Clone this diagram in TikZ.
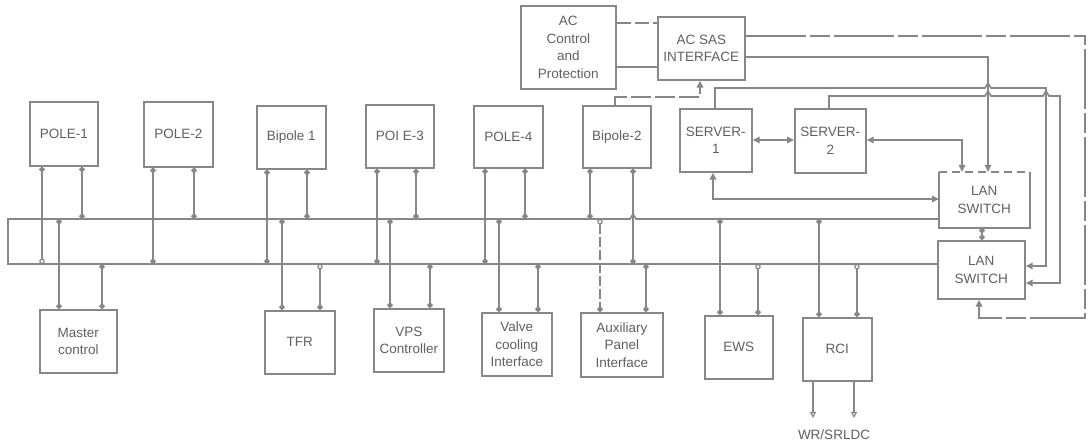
\documentclass[tikz,border=0pt]{standalone}
\usepackage{fontspec}
\setmainfont{Liberation Sans}
\usetikzlibrary{arrows.meta}
\definecolor{lc}{RGB}{135,135,135}
\definecolor{tc}{RGB}{95,95,95}
\begin{document}
\begin{tikzpicture}[x=1pt,y=-1pt,
  box/.style={draw=lc,line width=1.7pt,text=tc,align=center,anchor=north west,inner sep=0pt,
    font=\fontsize{13.5}{17.5}\selectfont},
  ln/.style={draw=lc,line width=1.6pt},
  tri/.tip={Triangle[length=7pt,width=6.5pt]},
  jd/.tip={Circle[length=5.5pt]},
  jo/.tip={Circle[open,length=5.5pt,line width=1.2pt]},
  dd/.style={ln,jd-jd},
  dashln/.style={dash pattern=on 14pt off 4pt}
]
\useasboundingbox (0,0) rectangle (1088,446);

% upper boxes
\node[box,minimum width=68pt,minimum height=64pt] (p1) at (29,101) {POLE-1};
\node[box,minimum width=69pt,minimum height=65pt] (p2) at (143,101) {POLE-2};
\node[box,minimum width=69pt,minimum height=63pt] (b1) at (256,105) {Bipole 1};
\node[box,minimum width=68pt,minimum height=63pt] (p3) at (365,104) {POI E-3};
\node[box,minimum width=69pt,minimum height=62pt] (p4) at (473,105) {POLE-4};
\node[box,minimum width=68pt,minimum height=62pt] (b2) at (582,105) {Bipole-2};
\node[box,minimum width=95pt,minimum height=83pt] (acp) at (520,5) {AC\\Control\\and\\Protection};
\node[box,minimum width=87pt,minimum height=63pt] (sas) at (657,16) {AC SAS\\INTERFACE};
\node[box,minimum width=72pt,minimum height=63pt] (s1) at (679,108) {SERVER-\\1};
\node[box,minimum width=71pt,minimum height=64pt] (s2) at (794,108) {SERVER-\\2};
\node[box,draw=none,minimum width=89pt,minimum height=54pt] (lan1) at (939,172) {LAN\\SWITCH};
\draw[ln,line width=1.7pt] (lan1.north west) -- (lan1.south west) -- (lan1.south east) -- (lan1.north east);
\draw[ln,line width=1.7pt,dash pattern=on 8pt off 5pt] (lan1.north west) -- (lan1.north east);
\node[box,minimum width=87pt,minimum height=58pt] (lan2) at (937,240) {LAN\\SWITCH};

% lower boxes
\node[box,minimum width=77pt,minimum height=63pt] (mc) at (39,309) {Master\\control};
\node[box,minimum width=70pt,minimum height=63pt] (tfr) at (264,310) {TFR};
\node[box,minimum width=70pt,minimum height=63pt] (vps) at (373,308) {VPS\\Controller};
\node[box,minimum width=70pt,minimum height=63pt] (vci) at (481,312) {Valve\\cooling\\Interface};
\node[box,minimum width=82pt,minimum height=64pt] (api) at (580,312) {Auxiliary\\Panel\\Interface};
\node[box,minimum width=68pt,minimum height=63pt] (ews) at (704,315) {EWS};
\node[box,minimum width=69pt,minimum height=63pt] (rci) at (802,317) {RCI};
\node[text=tc,font=\fontsize{13.5}{16}\selectfont] (wr) at (834,435) {WR/SRLDC};

% buses
\coordinate (ub) at (8,219);
\coordinate (lb) at (8,264);
\draw[ln] (lan1.west |- ub) -- (636,219) -- (633,214) -- (630,219) -- (ub) -- (lb) -- (lan2.west |- lb);

% drops from upper boxes
\draw[ln,jd-jo] (42,0 |- p1.south) -- (42,0 |- lb);
\draw[dd] (82,0 |- p1.south) -- (82,0 |- ub);
\draw[dd] (153,0 |- p2.south) -- (153,0 |- lb);
\draw[dd] (194,0 |- p2.south) -- (194,0 |- ub);
\draw[dd] (267,0 |- b1.south) -- (267,0 |- lb);
\draw[dd] (307,0 |- b1.south) -- (307,0 |- ub);
\draw[dd] (377,0 |- p3.south) -- (377,0 |- lb);
\draw[dd] (416,0 |- p3.south) -- (416,0 |- ub);
\draw[dd] (485,0 |- p4.south) -- (485,0 |- lb);
\draw[dd] (525,0 |- p4.south) -- (525,0 |- ub);
\draw[dd] (590,0 |- b2.south) -- (590,0 |- ub);
\draw[dd] (633,0 |- b2.south) -- (633,0 |- lb);

% drops to lower boxes
\draw[dd] (59,0 |- ub) -- (59,0 |- mc.north);
\draw[dd] (102,0 |- lb) -- (102,0 |- mc.north);
\draw[dd] (282,0 |- ub) -- (282,0 |- tfr.north);
\draw[ln,jo-jd] (320,0 |- lb) -- (320,0 |- tfr.north);
\draw[dd] (390,0 |- ub) -- (390,0 |- vps.north);
\draw[dd] (430,0 |- lb) -- (430,0 |- vps.north);
\draw[dd] (499,0 |- ub) -- (499,0 |- vci.north);
\draw[dd] (538,0 |- lb) -- (538,0 |- vci.north);
\draw[ln,jo-jd,dash pattern=on 10pt off 3pt] (600,0 |- ub) -- (600,0 |- api.north);
\draw[dd] (646,0 |- lb) -- (646,0 |- api.north);
\draw[dd] (720,0 |- ub) -- (720,0 |- ews.north);
\draw[ln,jo-jd] (758,0 |- lb) -- (758,0 |- ews.north);
\draw[dd] (819,0 |- ub) -- (819,0 |- rci.north);
\draw[ln,jo-jd] (857,0 |- lb) -- (857,0 |- rci.north);

% RCI outputs
\coordinate (o1) at (813,418);
\coordinate (o2) at (854,418);
\draw[ln,-{Triangle[open,length=6pt,width=6pt,line width=1.2pt]}] (813,0 |- rci.south) -- (o1);
\draw[ln,-{Triangle[open,length=6pt,width=6pt,line width=1.2pt]}] (854,0 |- rci.south) -- (o2);

% AC control to AC SAS
\draw[ln,dashln] (acp.east |- 0,23) -- (sas.west |- 0,23);
\draw[ln] (acp.east |- 0,67) -- (sas.west |- 0,67);
% Bipole-2 to AC SAS
\draw[ln,-tri,dash pattern=on 20pt off 4pt] (615,0 |- b2.north) -- (615,97) -- (700,97) -- (700,0 |- sas.south);

% AC SAS to LAN switches
\draw[ln,-tri,dash pattern=on 60pt off 4pt on 20pt off 4pt] (sas.east |- 0,36) -- (1085,36) -- (1085,318) -- (979,318) -- (979,0 |- lan2.south);
\draw[ln,-tri] (sas.east |- 0,57) -- (988,57) -- (988,0 |- lan1.north);

% servers to LAN switches
\draw[ln,-tri] (715,0 |- s1.north) -- (715,88) -- (985,88) -- (988,83) -- (991,88) -- (1046,88) -- (1046,266) -- (lan2.east |- 0,266);
\draw[ln,-tri] (829,0 |- s2.north) -- (829,96) -- (985,96) -- (988,91) -- (991,96) -- (1043,96) -- (1046,91) -- (1049,96) -- (1060,96) -- (1060,283) -- (lan2.east |- 0,283);
\draw[ln,tri-tri] (s1.east |- 0,140) -- (s2.west |- 0,140);
\draw[ln,tri-tri] (s2.east |- 0,140) -- (962,140) -- (962,0 |- lan1.north);
\draw[ln,tri-tri] (713,0 |- s1.south) -- (713,199) -- (lan1.west |- 0,199);
\draw[dd] (982,0 |- lan1.south) -- (982,0 |- lan2.north);
\end{tikzpicture}
\end{document}
